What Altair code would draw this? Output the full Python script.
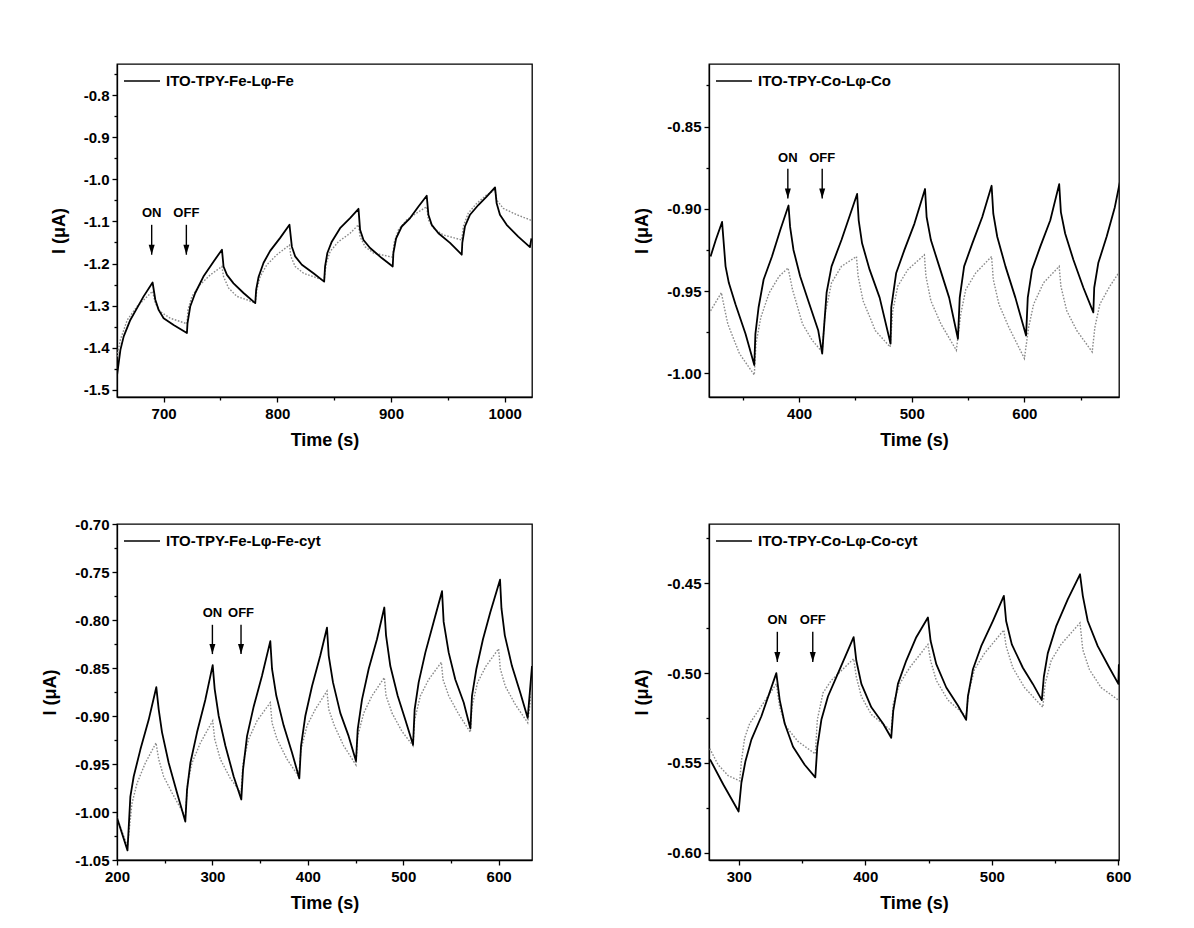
import altair as alt
import pandas as pd

FONT = "Liberation Sans"

# ---------------- Panel 1: ITO-TPY-Fe-Lφ-Fe ----------------
p1_label = "ITO-TPY-Fe-Lφ-Fe"
p1_t_black = [659, 662, 664.9, 670.7, 676.6, 682.4, 690.3, 692.7, 695.6, 700, 708.8, 720.5,
              721, 723.4, 727.8, 735, 744, 751.3, 752.7, 755.7, 761.5, 770.3, 780.6,
              781.4, 783.5, 787.9, 793.7, 802.5, 810.7, 812.8, 815.7, 821.6, 831.8, 841.2,
              842, 844, 847.9, 855.2, 864, 871.4, 872.8, 875.8, 881.6, 891.9, 901.5,
              902.1, 904.5, 909.4, 916.8, 924, 931.4, 932.9, 935.8, 941.7, 951.9, 962.2,
              962.7, 965, 969.5, 976.8, 984.1, 991.5, 992.9, 995.8, 1001.7, 1011.9, 1022.2, 1023.5]
p1_v_black = [-1.466, -1.405, -1.373, -1.334, -1.306, -1.278, -1.245, -1.286, -1.310, -1.330, -1.346, -1.365,
              -1.342, -1.302, -1.270, -1.231, -1.195, -1.167, -1.207, -1.227, -1.247, -1.270, -1.294,
              -1.262, -1.232, -1.198, -1.170, -1.139, -1.108, -1.160, -1.183, -1.203, -1.223, -1.243,
              -1.207, -1.175, -1.148, -1.116, -1.092, -1.070, -1.120, -1.144, -1.163, -1.187, -1.207,
              -1.175, -1.140, -1.112, -1.092, -1.065, -1.039, -1.084, -1.108, -1.128, -1.151, -1.179,
              -1.151, -1.112, -1.084, -1.061, -1.041, -1.019, -1.057, -1.084, -1.108, -1.136, -1.161, -1.140]
p1_t_grey = [659, 662, 668, 676.6, 690.3, 692.7, 697, 705.9, 720.5,
             721.4, 724.9, 732.2, 741, 751.3, 752.7, 757.1, 764.4, 773.2, 780.6,
             782, 784.9, 790.8, 799.6, 810.7, 811.9, 815.7, 823, 841.2,
             843, 846.5, 853.8, 864, 871.4, 872.8, 877.2, 884.5, 901.5,
             902.7, 906.5, 913.8, 922.6, 931.4, 932.9, 937.3, 946, 962.2,
             963.6, 968, 975.4, 984.1, 991.5, 992.9, 998.8, 1010.5, 1022.2, 1023.5]
p1_v_grey = [-1.421, -1.381, -1.334, -1.302, -1.266, -1.294, -1.314, -1.330, -1.343,
             -1.310, -1.278, -1.250, -1.227, -1.207, -1.231, -1.258, -1.278, -1.286, -1.294,
             -1.262, -1.231, -1.203, -1.179, -1.156, -1.183, -1.207, -1.223, -1.240,
             -1.199, -1.171, -1.148, -1.128, -1.108, -1.136, -1.160, -1.175, -1.185,
             -1.151, -1.120, -1.096, -1.080, -1.065, -1.096, -1.116, -1.132, -1.144,
             -1.112, -1.080, -1.057, -1.037, -1.025, -1.049, -1.069, -1.084, -1.096, -1.098]
p1_xdomain = [659, 1024]
p1_ydomain = [-1.517, -0.726]
p1_xmajor = [700, 800, 900, 1000]
p1_xminor = [750, 850, 950]
p1_ymajor = [-0.8, -0.9, -1.0, -1.1, -1.2, -1.3, -1.4, -1.5]
p1_yminor = [-0.75, -0.85, -0.95, -1.05, -1.15, -1.25, -1.35, -1.45]
p1_on_off_t = [689.5, 720]
p1_arrow = [-1.080, -1.108, -1.179]  # label, arrow top, arrow tip

# ---------------- Panel 2: ITO-TPY-Co-Lφ-Co ----------------
p2_label = "ITO-TPY-Co-Lφ-Co"
p2_t_black = [321.4, 326, 331.6, 334.7, 337.6, 343.5, 352.4, 360.2,
              361.2, 364, 368.5, 375.9, 383.2, 390.6, 392, 395, 400.9, 408.2, 417, 420.5,
              421.5, 424.4, 428.8, 437.6, 451.5, 452.9, 455.9, 462.6, 471.5, 481.2,
              481.8, 486.2, 493.5, 502.4, 511.8, 513.2, 517, 524.4, 533.2, 541,
              542.6, 546.5, 553.8, 562.6, 570.9, 572.4, 575.9, 583.2, 592, 601.5,
              603, 606.8, 614.1, 623, 630.9, 632.4, 636.2, 643.5, 652.4, 661.2,
              662, 665.6, 673, 680.3, 684.7]
p2_v_black = [-0.929, -0.919, -0.908, -0.935, -0.945, -0.958, -0.976, -0.995,
              -0.976, -0.960, -0.943, -0.929, -0.913, -0.898, -0.911, -0.925, -0.941, -0.956, -0.974, -0.988,
              -0.978, -0.951, -0.935, -0.919, -0.891, -0.907, -0.921, -0.937, -0.954, -0.982,
              -0.960, -0.939, -0.925, -0.909, -0.888, -0.905, -0.919, -0.935, -0.954, -0.979,
              -0.954, -0.935, -0.921, -0.905, -0.886, -0.903, -0.917, -0.935, -0.954, -0.977,
              -0.954, -0.937, -0.923, -0.907, -0.885, -0.902, -0.915, -0.931, -0.948, -0.963,
              -0.948, -0.933, -0.917, -0.899, -0.884]
p2_t_grey = [321.4, 331, 333, 336.7, 347, 360.2, 361.7, 366, 373.5, 382.3, 390.2,
             394.1, 403, 411.7, 420.5, 423, 428.8, 437.6, 450.9, 452.4, 456.8, 464.1, 467.6, 480.8,
             483.2, 487.6, 496.5, 511.2, 512.6, 517, 525.9, 539.6,
             543.5, 548, 556.8, 570.9, 572.4, 577.4, 586.2, 600,
             603.8, 608.2, 617, 630.9, 632.4, 637.6, 646.5, 660.2,
             662.6, 667, 675.9, 684.7]
p2_v_grey = [-0.962, -0.951, -0.958, -0.970, -0.988, -1.001, -0.982, -0.966, -0.951, -0.941, -0.936,
             -0.949, -0.970, -0.980, -0.987, -0.964, -0.945, -0.935, -0.929, -0.941, -0.956, -0.968, -0.974, -0.984,
             -0.962, -0.947, -0.937, -0.928, -0.941, -0.956, -0.970, -0.986,
             -0.964, -0.949, -0.939, -0.929, -0.943, -0.958, -0.972, -0.991,
             -0.972, -0.958, -0.945, -0.935, -0.947, -0.962, -0.974, -0.987,
             -0.972, -0.958, -0.947, -0.938]
p2_xdomain = [320, 684]
p2_ydomain = [-1.0144, -0.812]
p2_xmajor = [400, 500, 600]
p2_xminor = [350, 450, 550, 650]
p2_ymajor = [-0.85, -0.90, -0.95, -1.00]
p2_yminor = [-0.825, -0.875, -0.925, -0.975]
p2_on_off_t = [390, 420.5]
p2_arrow = [-0.869, -0.8757, -0.8938]

# ---------------- Panel 3: ITO-TPY-Fe-Lφ-Fe-cyt ----------------
p3_label = "ITO-TPY-Fe-Lφ-Fe-cyt"
p3_t_black = [200, 211, 214, 217.5, 224.5, 233.2, 241.2, 243.7, 247.2, 254.2, 262.9, 271.6,
              273.4, 276.9, 283.9, 292.6, 300.3, 302.4, 306.6, 313.6, 322.3, 330.3,
              332.1, 336.3, 343.3, 352, 360.7, 362.5, 367, 374.7, 383.4, 391.1,
              392.9, 397.4, 404.4, 413.1, 420.1, 421.9, 426.4, 434.1, 442.8, 450.5,
              452.3, 456.8, 463.8, 472.5, 480.2, 482, 486.5, 494.2, 502.2, 510.3,
              512, 516.2, 523.2, 531.9, 540.7, 542.4, 547.7, 554.6, 563.4, 570.4,
              572.1, 576.7, 583.6, 591.3, 601.5, 603, 606.5, 614, 622.8, 630.5, 635]
p3_v_black = [-1.006, -1.040, -0.984, -0.963, -0.935, -0.904, -0.870, -0.893, -0.917, -0.949, -0.980, -1.010,
              -0.977, -0.949, -0.917, -0.883, -0.847, -0.872, -0.900, -0.931, -0.963, -0.987,
              -0.956, -0.921, -0.890, -0.858, -0.822, -0.851, -0.879, -0.910, -0.938, -0.965,
              -0.931, -0.900, -0.869, -0.837, -0.808, -0.837, -0.865, -0.897, -0.921, -0.947,
              -0.914, -0.883, -0.851, -0.820, -0.787, -0.816, -0.848, -0.879, -0.904, -0.930,
              -0.893, -0.865, -0.834, -0.802, -0.770, -0.802, -0.834, -0.862, -0.886, -0.913,
              -0.879, -0.851, -0.820, -0.792, -0.758, -0.788, -0.816, -0.848, -0.876, -0.902, -0.848]
p3_t_grey = [200, 211, 215.7, 221, 229.7, 240.9, 243.7, 248.9, 257.7, 271.6,
             274, 278.6, 287.4, 300.3, 302.4, 308.3, 318.8, 330,
             332.1, 338, 346.8, 360.7, 362.5, 367.7, 378.2, 390.4,
             392.9, 399.2, 407.9, 420.1, 421.9, 427.8, 437.6, 450.5,
             452.3, 458.6, 467.3, 480.2, 482, 488.3, 498.7, 510.3,
             512, 518, 526.7, 540, 541.7, 547.7, 558.1, 570.4,
             572.1, 578, 586.8, 600, 601.8, 607, 617.5, 630.5, 635]
p3_v_grey = [-1.006, -1.036, -0.991, -0.970, -0.949, -0.928, -0.945, -0.963, -0.980, -1.005,
             -0.970, -0.949, -0.928, -0.905, -0.924, -0.945, -0.965, -0.980,
             -0.949, -0.924, -0.905, -0.886, -0.907, -0.924, -0.945, -0.963,
             -0.935, -0.910, -0.893, -0.874, -0.893, -0.910, -0.931, -0.951,
             -0.921, -0.897, -0.879, -0.860, -0.879, -0.897, -0.916, -0.931,
             -0.904, -0.879, -0.862, -0.844, -0.862, -0.879, -0.898, -0.917,
             -0.890, -0.865, -0.848, -0.830, -0.851, -0.869, -0.888, -0.907, -0.870]
p3_xdomain = [200, 635]
p3_ydomain = [-1.05, -0.70]
p3_xmajor = [200, 300, 400, 500, 600]
p3_xminor = [250, 350, 450, 550]
p3_ymajor = [-0.70, -0.75, -0.80, -0.85, -0.90, -0.95, -1.00, -1.05]
p3_yminor = [-0.725, -0.775, -0.825, -0.875, -0.925, -0.975, -1.025]
p3_on_off_t = [300, 330]
p3_arrow = [-0.7926, -0.805, -0.8355]

# ---------------- Panel 4: ITO-TPY-Co-Lφ-Co-cyt ----------------
p4_label = "ITO-TPY-Co-Lφ-Co-cyt"
p4_t_black = [277.3, 287.8, 299.9, 302.1, 305.3, 310, 317.9, 329.7, 332.4, 336.3, 342.9, 352.1, 360.5,
              362.1, 365.3, 370.5, 379.7, 390.8, 392.9, 396.9, 404.8, 414, 420.5,
              422.1, 425.8, 432.4, 440.3, 449.5, 451.6, 456.1, 464, 473.2, 479.7,
              481.1, 485, 491.6, 500.8, 509.5, 511.3, 515.8, 524.5, 532.4, 539.5,
              541.1, 544.2, 550.8, 560, 569.7, 571.9, 575.8, 583.7, 592.9, 600, 600.4]
p4_v_black = [-0.548, -0.562, -0.577, -0.561, -0.549, -0.537, -0.524, -0.500, -0.515, -0.528, -0.541, -0.551, -0.558,
              -0.541, -0.526, -0.513, -0.498, -0.480, -0.493, -0.506, -0.519, -0.528, -0.536,
              -0.521, -0.506, -0.493, -0.480, -0.469, -0.482, -0.495, -0.508, -0.518, -0.526,
              -0.513, -0.498, -0.485, -0.471, -0.457, -0.471, -0.484, -0.497, -0.506, -0.515,
              -0.502, -0.489, -0.474, -0.459, -0.445, -0.457, -0.471, -0.485, -0.497, -0.506, -0.495]
p4_t_grey = [277.1, 283.7, 291.6, 300.8, 302.1, 304.7, 308.7, 315.3, 329.7, 332.4, 337.6, 346.8, 360.5,
             362.1, 366.6, 373.2, 390.8, 392.9, 396.9, 404.8, 420.5,
             422.1, 427.1, 435, 449.5, 451.6, 456.1, 465.3, 479.7,
             481.6, 486.3, 494.2, 509.5, 511.3, 516.6, 525.8, 540.3,
             542.1, 546.9, 554.7, 569.7, 571.9, 577.1, 586.3, 600]
p4_v_grey = [-0.542, -0.551, -0.557, -0.560, -0.549, -0.536, -0.528, -0.521, -0.506, -0.519, -0.530, -0.538, -0.545,
             -0.526, -0.511, -0.504, -0.492, -0.502, -0.513, -0.523, -0.532,
             -0.517, -0.506, -0.497, -0.484, -0.493, -0.504, -0.515, -0.524,
             -0.511, -0.498, -0.489, -0.476, -0.485, -0.497, -0.508, -0.519,
             -0.506, -0.493, -0.484, -0.472, -0.487, -0.498, -0.508, -0.515]
p4_xdomain = [276.5, 600.5]
p4_ydomain = [-0.604, -0.417]
p4_xmajor = [300, 400, 500, 600]
p4_xminor = [350, 450, 550]
p4_ymajor = [-0.45, -0.50, -0.55, -0.60]
p4_yminor = [-0.425, -0.475, -0.525, -0.575]
p4_on_off_t = [330.5, 358.5]
p4_arrow = [-0.4705, -0.477, -0.4938]

on_off_text = ["ON", "OFF"]
x_title = "Time (s)"
y_title = "I (μA)"


def ylab_expr(dec):
    return f"(datum.value < 0 ? '-' : '') + format(abs(datum.value), '.{dec}f')"


def panel(label, tb, vb, tg, vg, xdom, ydom, xmaj, xmin, ymaj, ymin, onoff_t, arrow,
          w, h, ydec):
    black = pd.DataFrame({"t": tb, "v": vb, "series": label})
    grey = pd.DataFrame({"t": tg, "v": vg})
    ann = pd.DataFrame({"t": onoff_t, "label": on_off_text,
                        "vl": [arrow[0]] * 2, "vtop": [arrow[1]] * 2, "vtip": [arrow[2]] * 2})

    xs = alt.Scale(domain=xdom, nice=False, zero=False)
    ys = alt.Scale(domain=ydom, nice=False, zero=False)

    minor_x = alt.Axis(values=xmin, labels=False, title=None, tickSize=3, orient="bottom",
                       domain=False, grid=False)
    minor_y = alt.Axis(values=ymin, labels=False, title=None, tickSize=3, orient="left",
                       domain=False, grid=False)
    major_x = alt.Axis(values=xmaj, format="d", title=x_title, tickSize=5, orient="bottom",
                       labelPadding=4, titlePadding=10, grid=False, labelFlush=False)
    major_y = alt.Axis(values=ymaj, labelExpr=ylab_expr(ydec), title=y_title, tickSize=5,
                       orient="left", labelPadding=3, titlePadding=15, grid=False,
                       labelFlush=False)

    g = alt.Chart(grey).mark_line(color="#8a8a8a", strokeWidth=1.4, strokeDash=[1.6, 1.6],
                                  clip=True).encode(
        x=alt.X("t:Q", scale=xs, axis=minor_x),
        y=alt.Y("v:Q", scale=ys, axis=minor_y),
    )
    b = alt.Chart(black).mark_line(strokeWidth=1.8, clip=True, strokeJoin="round").encode(
        x=alt.X("t:Q", scale=xs, axis=major_x),
        y=alt.Y("v:Q", scale=ys, axis=major_y),
        color=alt.Color("series:N", scale=alt.Scale(domain=[label], range=["black"]),
                        legend=alt.Legend(title=None, orient="none", legendX=6, legendY=-2,
                                          symbolType="stroke", symbolSize=1296,
                                          symbolStrokeWidth=1.5, labelFont=FONT,
                                          labelFontSize=15, labelFontWeight="bold",
                                          labelColor="black", labelOffset=5, padding=0)),
    )
    txt = alt.Chart(ann).mark_text(font=FONT, fontSize=13, fontWeight="bold", color="black",
                                   baseline="middle").encode(
        x=alt.X("t:Q", scale=xs, axis=None),
        y=alt.Y("vl:Q", scale=ys, axis=None),
        text="label:N",
    )
    rule = alt.Chart(ann).mark_rule(color="black", strokeWidth=1.4).encode(
        x=alt.X("t:Q", scale=xs, axis=None),
        y=alt.Y("vtop:Q", scale=ys, axis=None),
        y2="vtip:Q",
    )
    head = alt.Chart(ann).mark_point(shape="M-0.6,-2L0.6,-2L0,0Z", size=100, filled=True,
                                     color="black", opacity=1).encode(
        x=alt.X("t:Q", scale=xs, axis=None),
        y=alt.Y("vtip:Q", scale=ys, axis=None),
    )
    return alt.layer(g, b, rule, head, txt).resolve_axis(x="independent", y="independent") \
        .properties(width=w, height=h)


c1 = panel(p1_label, p1_t_black, p1_v_black, p1_t_grey, p1_v_grey, p1_xdomain, p1_ydomain,
           p1_xmajor, p1_xminor, p1_ymajor, p1_yminor, p1_on_off_t, p1_arrow, 415, 333, 1)
c2 = panel(p2_label, p2_t_black, p2_v_black, p2_t_grey, p2_v_grey, p2_xdomain, p2_ydomain,
           p2_xmajor, p2_xminor, p2_ymajor, p2_yminor, p2_on_off_t, p2_arrow, 410, 333, 2)
c3 = panel(p3_label, p3_t_black, p3_v_black, p3_t_grey, p3_v_grey, p3_xdomain, p3_ydomain,
           p3_xmajor, p3_xminor, p3_ymajor, p3_yminor, p3_on_off_t, p3_arrow, 415, 336, 2)
c4 = panel(p4_label, p4_t_black, p4_v_black, p4_t_grey, p4_v_grey, p4_xdomain, p4_ydomain,
           p4_xmajor, p4_xminor, p4_ymajor, p4_yminor, p4_on_off_t, p4_arrow, 410, 336, 2)

chart = alt.concat(
    c1, c2, c3, c4, columns=2, spacing={"row": 127, "column": 177}, bounds="flush"
).resolve_scale(
    color="independent"
).properties(
    padding={"left": 33, "top": 53, "right": 10, "bottom": 5},
    background="white",
).configure_view(
    stroke="black", strokeWidth=1.3
).configure_axis(
    labelFont=FONT, labelFontSize=15, labelFontWeight="bold", labelColor="black",
    titleFont=FONT, titleFontSize=18, titleFontWeight="bold", titleColor="black",
    domainColor="black", domainWidth=1.3, tickColor="black", tickWidth=1.3, grid=False,
)

chart.save("out.html", embed_options={"renderer": "svg", "actions": False})
